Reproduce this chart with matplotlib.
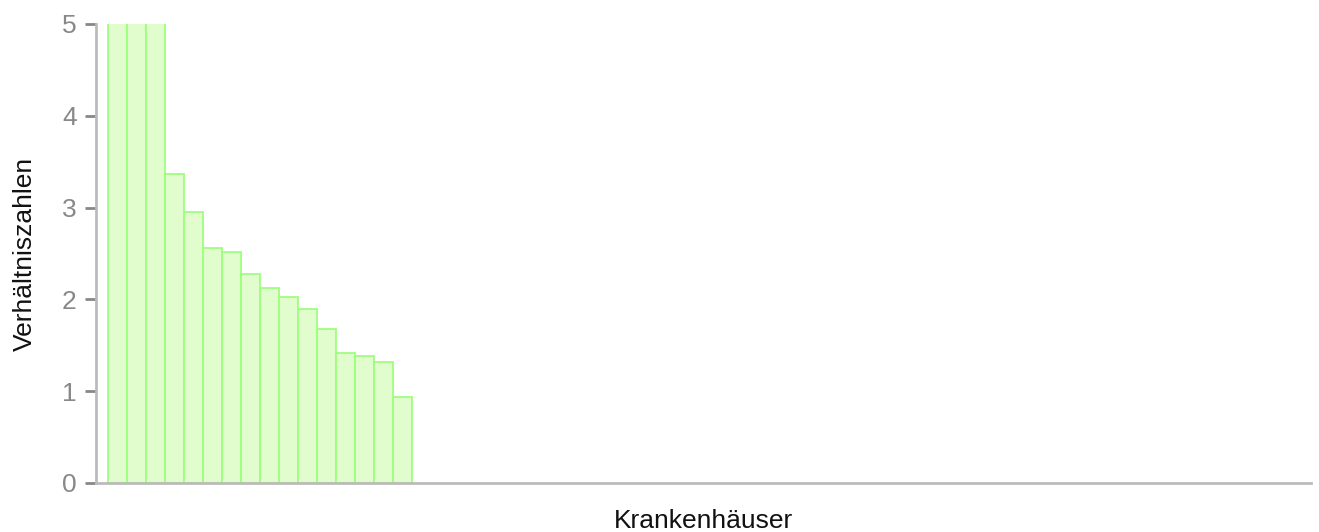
import matplotlib
matplotlib.use("Agg")
import matplotlib.pyplot as plt
import numpy as np

plt.rcParams['font.family'] = ['Liberation Sans', 'DejaVu Sans']

# Data (first three bars exceed the axis maximum and are clipped at 5)
hospitals = [f"KH {i+1}" for i in range(16)]
ratios = [7.5, 6.4, 5.6, 3.37, 2.95, 2.56, 2.52, 2.28, 2.12, 2.03, 1.90, 1.68, 1.42, 1.38, 1.32, 0.94]
y_ticks = [0, 1, 2, 3, 4, 5]
x_label = "Krankenhäuser"
y_label = "Verhältniszahlen"

W, H = 1319, 532
fig = plt.figure(figsize=(W / 100, H / 100), dpi=100)
ax = fig.add_axes([96 / W, (H - 483) / H, (1311 - 96) / W, (483 - 24) / H])

x = np.arange(len(ratios))
ax.bar(x, ratios, width=1.0, color="#e2fdcd", edgecolor="#9eff7e", linewidth=1.3)

ax.set_ylim(0, 5)
ax.set_xlim(-1.13, 62.85)
ax.set_yticks(y_ticks)
ax.set_yticklabels([str(t) for t in y_ticks])
ax.set_xticks([])

for s in ["top", "right"]:
    ax.spines[s].set_visible(False)
for s in ["left", "bottom"]:
    ax.spines[s].set_color("#bbbbbb")
    ax.spines[s].set_linewidth(2)

ax.tick_params(axis="y", length=8, width=2, color="#888888", labelcolor="#888888",
               labelsize=19, pad=6)

ax.set_xlabel(x_label, fontsize=19, color="#111111", labelpad=19)
ax.set_ylabel(y_label, fontsize=19, color="#111111", labelpad=18)

fig.savefig("out.png", dpi=100)
